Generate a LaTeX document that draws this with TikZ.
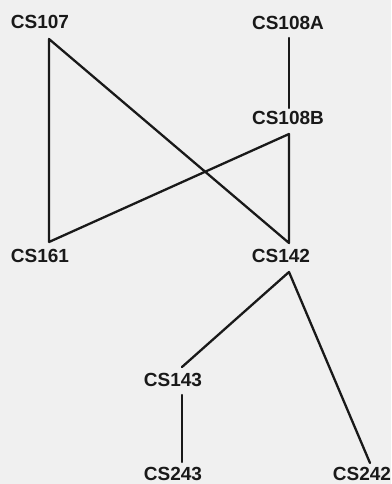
\documentclass[tikz,border=0pt]{standalone}
\usepackage{fontspec}
\setmainfont{Liberation Sans}
\begin{document}
\begin{tikzpicture}[x=1pt,y=-1pt,
  lbl/.style={font=\fontsize{19}{19}\selectfont\bfseries, inner sep=0pt, text=black!90},
  edge/.style={line width=2.3pt, black!90, line cap=round, line join=round}]
\fill[black!6] (0,0) rectangle (391,484);
\useasboundingbox (0,0) rectangle (391,484);
% labels
\node[lbl] (n107) at (40,22) {CS107};
\node[lbl] (n108a) at (288,23) {CS108A};
\node[lbl] (n108b) at (288,118) {CS108B};
\node[lbl] (n161) at (40,256) {CS161};
\node[lbl] (n142) at (281,256) {CS142};
\node[lbl] (n143) at (173,380) {CS143};
\node[lbl] (n243) at (173,474) {CS243};
\node[lbl] (n242) at (362,474) {CS242};
% connection points
\coordinate (p107) at (49,39);
\coordinate (p108at) at (289,38);
\coordinate (p108ab) at (289,108);
\coordinate (p108b) at (289,134);
\coordinate (p161) at (49,242);
\coordinate (p142t) at (289,243);
\coordinate (p142b) at (289,272);
\coordinate (p143t) at (182,367);
\coordinate (p143b) at (182,395);
\coordinate (p243) at (182,462);
\coordinate (p242) at (370,463);
% edges
\draw[edge] (p161) -- (p107) -- (p142t) -- (p108b) -- (p161);
\draw[edge] (p108at) -- (p108ab);
\draw[edge] (p143t) -- (p142b) -- (p242);
\draw[edge] (p143b) -- (p243);
\end{tikzpicture}
\end{document}
